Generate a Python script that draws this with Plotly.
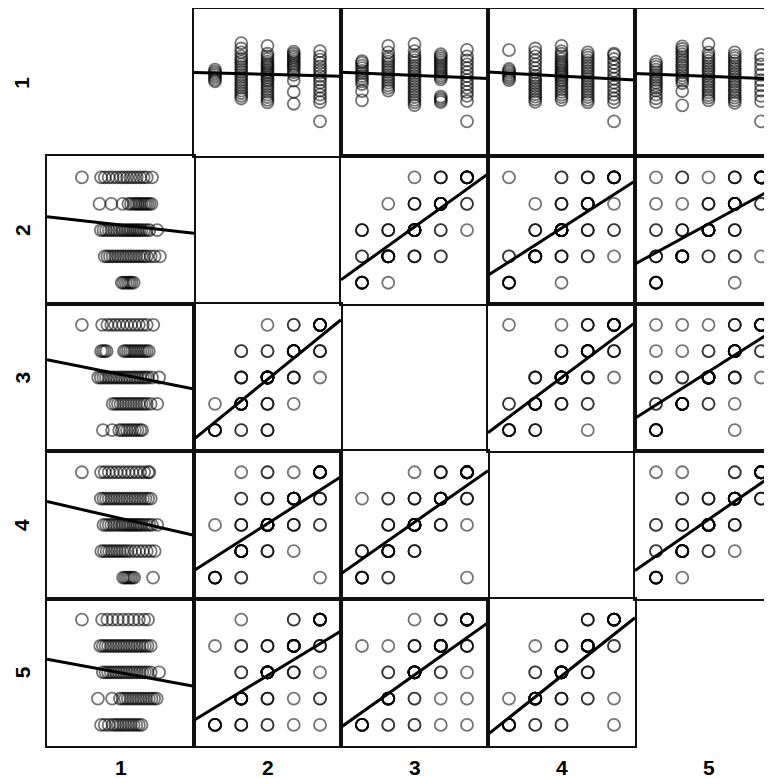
import numpy as np
import plotly.graph_objects as go

# ---------------- data ----------------
VARS = ["1", "2", "3", "4", "5"]
LEVELS = [1, 2, 3, 4, 5]
AX_RANGE = [0.2, 5.8]

# values of variable 1 grouped by the level of each discrete variable
V1_BY_V2 = {
    1: [3.05, 3.12, 3.2, 3.28, 3.35, 3.42, 3.5],
    2: [2.4, 2.5, 2.6, 2.7, 2.8, 2.9, 3.0, 3.1, 3.2, 3.3, 3.4, 3.5, 3.6, 3.7, 3.8, 3.9, 4.0, 4.15, 4.3, 4.5],
    3: [2.25, 2.35, 2.45, 2.55, 2.65, 2.75, 2.85, 2.95, 3.05, 3.12, 3.2, 3.28, 3.35, 3.42, 3.5, 3.58,
        3.65, 3.72, 3.8, 3.9, 4.0, 4.1, 4.4],
    4: [2.2, 2.65, 3.08, 3.3, 3.4, 3.5, 3.58, 3.65, 3.72, 3.8, 3.88, 3.95, 4.02, 4.1, 4.18],
    5: [1.53, 2.26, 2.4, 2.55, 2.7, 2.85, 3.0, 3.12, 3.25, 3.38, 3.5, 3.62, 3.75, 3.88, 4.0, 4.2],
}
V1_BY_V3 = {
    1: [2.33, 2.68, 2.95, 3.05, 3.15, 3.25, 3.35, 3.45, 3.55, 3.65, 3.75, 3.82],
    2: [2.7, 2.8, 2.9, 3.0, 3.1, 3.2, 3.3, 3.4, 3.5, 3.6, 3.7, 3.8, 3.9, 4.0, 4.15, 4.4],
    3: [2.15, 2.25, 2.35, 2.45, 2.55, 2.65, 2.75, 2.85, 2.95, 3.05, 3.15, 3.25, 3.35, 3.45, 3.55,
        3.65, 3.75, 3.85, 3.95, 4.05, 4.2, 4.47],
    4: [2.26, 2.33, 2.4, 2.47, 3.13, 3.2, 3.28, 3.36, 3.44, 3.52, 3.6, 3.68, 3.76, 3.84, 3.92, 4.0, 4.08],
    5: [1.53, 2.3, 2.5, 2.65, 2.8, 2.95, 3.1, 3.25, 3.4, 3.55, 3.7, 3.85, 4.0, 4.25],
}
V1_BY_V4 = {
    1: [3.1, 3.17, 3.24, 3.31, 3.38, 3.45, 3.52, 4.24],
    2: [2.27, 2.37, 2.47, 2.57, 2.67, 2.77, 2.87, 2.97, 3.07, 3.17, 3.27, 3.4, 3.55, 3.7, 3.85, 4.0,
        4.15, 4.3],
    3: [2.35, 2.45, 2.55, 2.65, 2.75, 2.85, 2.95, 3.05, 3.12, 3.2, 3.28, 3.35, 3.42, 3.5, 3.58, 3.65,
        3.72, 3.8, 3.9, 4.0, 4.1, 4.2, 4.4],
    4: [2.25, 2.35, 2.45, 2.55, 2.65, 2.75, 2.85, 2.95, 3.05, 3.15, 3.25, 3.35, 3.45, 3.55, 3.65, 3.75,
        3.85, 3.95, 4.05, 4.15],
    5: [1.53, 2.26, 2.4, 2.55, 2.7, 2.85, 3.0, 3.15, 3.3, 3.45, 3.6, 3.75, 3.9, 4.05, 4.1],
}
V1_BY_V5 = {
    1: [2.26, 2.4, 2.55, 2.7, 2.8, 2.9, 3.0, 3.1, 3.2, 3.3, 3.4, 3.5, 3.6, 3.7, 3.8],
    2: [2.14, 2.68, 2.98, 3.08, 3.18, 3.28, 3.38, 3.48, 3.58, 3.68, 3.78, 3.88, 3.98, 4.08, 4.18,
        4.28, 4.38],
    3: [2.33, 2.43, 2.53, 2.63, 2.73, 2.83, 2.93, 3.03, 3.13, 3.23, 3.33, 3.43, 3.53, 3.63, 3.73,
        3.83, 3.93, 4.03, 4.15, 4.47],
    4: [2.23, 2.33, 2.43, 2.53, 2.63, 2.73, 2.83, 2.93, 3.03, 3.13, 3.23, 3.33, 3.43, 3.53, 3.63,
        3.73, 3.83, 3.93, 4.03, 4.15],
    5: [1.53, 2.3, 2.5, 2.7, 2.9, 3.1, 3.3, 3.5, 3.7, 3.9, 4.05],
}

# cross-tab counts between discrete variables: rows = lower-numbered var level 1..5,
# columns = higher-numbered var level 1..5
T23 = [[5, 1, 0, 0, 0],
       [2, 8, 3, 2, 0],
       [3, 3, 10, 2, 1],
       [0, 1, 3, 8, 2],
       [0, 0, 1, 3, 8]]
T24 = [[5, 0, 1, 0, 0],
       [2, 8, 3, 2, 1],
       [0, 3, 11, 3, 2],
       [0, 1, 3, 9, 1],
       [1, 0, 2, 3, 7]]
T25 = [[5, 0, 0, 1, 0],
       [3, 8, 2, 2, 1],
       [2, 3, 11, 3, 0],
       [1, 1, 3, 9, 2],
       [1, 2, 1, 3, 8]]
T34 = [[5, 3, 0, 1, 0],
       [2, 7, 3, 2, 0],
       [0, 3, 10, 3, 1],
       [0, 0, 3, 8, 3],
       [1, 0, 1, 3, 9]]
T35 = [[6, 0, 0, 1, 0],
       [2, 8, 2, 1, 0],
       [2, 2, 12, 3, 1],
       [1, 1, 2, 9, 2],
       [1, 1, 1, 3, 10]]
T45 = [[6, 1, 0, 0, 0],
       [2, 9, 2, 1, 0],
       [2, 3, 12, 3, 0],
       [0, 2, 3, 11, 3],
       [1, 1, 0, 2, 9]]

V1_GROUPS = {2: V1_BY_V2, 3: V1_BY_V3, 4: V1_BY_V4, 5: V1_BY_V5}
TABLES = {(2, 3): T23, (2, 4): T24, (2, 5): T25, (3, 4): T34, (3, 5): T35, (4, 5): T45}


def pair_data(a, b):
    """return (values of var a, values of var b) for one pair of variables"""
    if a == 1 or b == 1:
        k = b if a == 1 else a
        lv, v1 = [], []
        for L in LEVELS:
            for v in V1_GROUPS[k][L]:
                lv.append(L)
                v1.append(v)
        return (v1, lv) if a == 1 else (lv, v1)
    lo, hi = min(a, b), max(a, b)
    t = TABLES[(lo, hi)]
    va, vb = [], []
    for i, La in enumerate(LEVELS):
        for j, Lb in enumerate(LEVELS):
            for _ in range(t[i][j]):
                va.append(La)
                vb.append(Lb)
    return (va, vb) if a == lo else (vb, va)


# ---------------- layout ----------------
# the page body has an 8px margin, so the figure itself is 764 x 770
W, H = 764, 770
X0, CW = 39, 147
Y0, RH = 1, 147.4
N = 5

fig = go.Figure()
layout = dict(width=W, height=H, margin=dict(l=0, r=0, t=0, b=0),
              paper_bgcolor="white", plot_bgcolor="white", showlegend=False)

POINT_COLOR = "rgba(0,0,0,0.55)"

for r in range(N):
    for c in range(N):
        idx = r * N + c + 1
        xs = "" if idx == 1 else str(idx)
        x0 = X0 + CW * c
        x1 = x0 + CW
        xr = list(AX_RANGE)
        if x1 > W:
            frac = (W - x0) / CW
            xr = [AX_RANGE[0], AX_RANGE[0] + (AX_RANGE[1] - AX_RANGE[0]) * frac]
            x1 = W
        top = Y0 + RH * r
        bot = top + RH
        layout["xaxis" + xs] = dict(domain=[x0 / W, x1 / W], range=xr, anchor="y" + xs,
                                    showticklabels=False, ticks="", showgrid=False, zeroline=False,
                                    showline=True, linecolor="#111", linewidth=1.8, mirror=True,
                                    fixedrange=True)
        layout["yaxis" + xs] = dict(domain=[1 - bot / H, 1 - top / H], range=list(AX_RANGE),
                                    anchor="x" + xs,
                                    showticklabels=False, ticks="", showgrid=False, zeroline=False,
                                    showline=True, linecolor="#111", linewidth=1.8,
                                    mirror=(c < N - 1), fixedrange=True)
        if r == c:
            continue
        yvar, xvar = r + 1, c + 1
        yv, xv = pair_data(yvar, xvar)
        fig.add_trace(go.Scatter(
            x=xv, y=yv, mode="markers", xaxis="x" + xs, yaxis="y" + xs,
            marker=dict(symbol="circle-open", size=12, color=POINT_COLOR,
                        line=dict(width=1.8, color=POINT_COLOR)),
            hoverinfo="skip"))
        slope, icpt = np.polyfit(np.array(xv, float), np.array(yv, float), 1)
        lx = np.array(AX_RANGE)
        fig.add_trace(go.Scatter(
            x=lx, y=icpt + slope * lx, mode="lines", xaxis="x" + xs, yaxis="y" + xs,
            line=dict(color="black", width=3), hoverinfo="skip"))

ann = []
lab_font = dict(family="Liberation Sans Narrow, Liberation Sans, Arial, sans-serif", size=21,
                color="black", weight="bold")
for c in range(N):
    cx = X0 + CW * (c + 0.5)
    ann.append(dict(text=VARS[c], x=cx / W, y=1 - 759 / H, xref="paper", yref="paper",
                    showarrow=False, xanchor="center", yanchor="middle", font=lab_font))
for r in range(N):
    cy = Y0 + RH * (r + 0.5)
    ann.append(dict(text=VARS[r], x=14 / W, y=1 - cy / H, xref="paper", yref="paper",
                    showarrow=False, xanchor="center", yanchor="middle", textangle=-90,
                    font=lab_font))
layout["annotations"] = ann

fig.update_layout(**layout)
fig.write_html("out.html")
